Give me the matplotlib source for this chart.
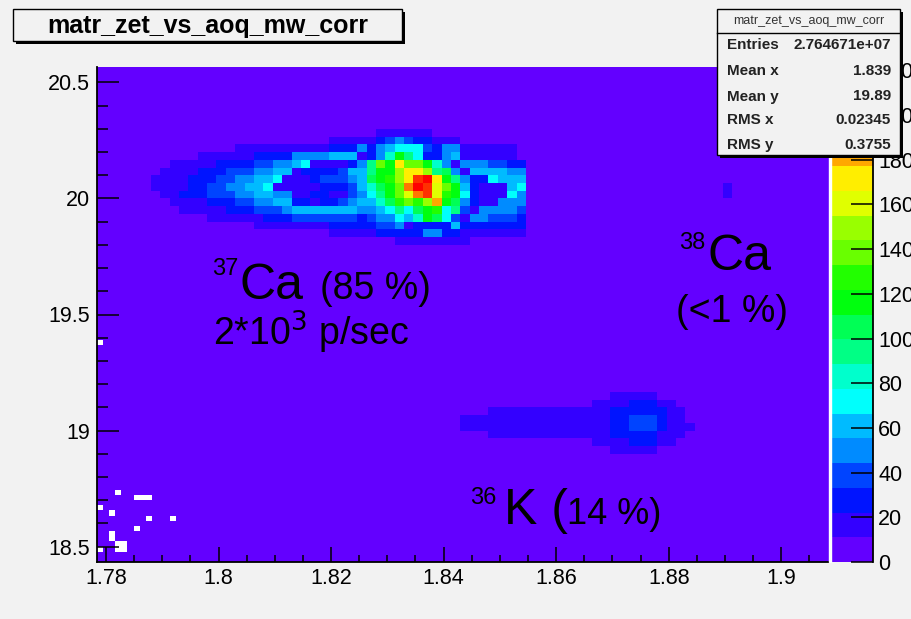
import colorsys
import numpy as np
import matplotlib
matplotlib.use("Agg")
import matplotlib.pyplot as plt
from matplotlib.colors import ListedColormap, BoundaryNorm
from matplotlib.patches import Rectangle
from matplotlib.lines import Line2D
from matplotlib.ticker import MultipleLocator

plt.rcParams['font.family'] = ['Liberation Sans', 'DejaVu Sans']

hist_name = "matr_zet_vs_aoq_mw_corr"
stats_labels = ["Entries", "Mean x", "Mean y", "RMS x", "RMS y"]
stats_values = ["2.764671e+07", "1.839", "19.89", "0.02345", "0.3755"]

# axis ranges and binning (A/Q on x, Z on y)
aoq_range = (1.7784, 1.9084)
z_range = (18.4333, 20.5667)
aoq_first_edge = 1.77797
aoq_bin = 1 / 600
n_aoq = 82
z_bin = 1 / 30
n_z = 64
z_max = 221.5
n_levels = 20

x_ticks = [1.78, 1.80, 1.82, 1.84, 1.86, 1.88, 1.90]
x_tick_labels = ["1.78", "1.8", "1.82", "1.84", "1.86", "1.88", "1.9"]
y_ticks = [18.5, 19.0, 19.5, 20.0, 20.5]
y_tick_labels = ["18.5", "19", "19.5", "20", "20.5"]
cbar_ticks = [0, 20, 40, 60, 80, 100, 120, 140, 160, 180, 200, 220]

# colour band (0..19 -> '.', '1'..'9', 'a'..'j') of each bin.
# rows go down in Z starting at bin row `top` (counted from the top edge)
ca37_top, ca37_col = 8, 6
ca37_bands = [
    "........................111111...........",
    "...................11111234322111........",
    ".........111111111122242456663244111111..",
    ".....111111222244445551247a862245111111..",
    "..1111122223344561111248cafcca7414443322.",
    ".11112223334455122223558aadffd8941555544.",
    "111122233445561112333459abdfijfa84226555.",
    "1111223344556111112223579achjieca5211156.",
    ".112223334455441122113468acehieba6211164.",
    "..111122233445522122345579bcbdga94211444.",
    "...11111222333455555554456869ab683144443.",
    "......11111122233333332344657a9631443332.",
    "...........11111111222223341222252222222.",
    "...................111112222244221111111.",
    "..........................11111111.......",
]

k36_top, k36_col = 42, 39
k36_bands = [
    "................11111....",
    "..............111122211..",
    "...111111111111122222211.",
    "111111111111111122333211.",
    "1111111111111111223332111",
    "...111111111111122222111.",
    "..............111122211..",
    "................11111....",
]

ca38_top, ca38_col = 15, 67
ca38_bands = ["1", "1"]

# empty bins (white) near the lower left corner
empty_aoq = [1.7791, 1.7825, 1.7855, 1.7866, 1.7877, 1.7791, 1.7808, 1.7876,
             1.7924, 1.7858, 1.7807, 1.7807, 1.7818, 1.7829, 1.7818, 1.7829, 1.7791]
empty_z = [19.377, 18.744, 18.713, 18.713, 18.713, 18.677, 18.644, 18.614,
           18.614, 18.586, 18.552, 18.530, 18.508, 18.508, 18.486, 18.486, 18.485]

# ROOT "pretty" palette, 20 contour levels
palette = []
for k in range(n_levels):
    idx = int((k + 0.99) * 50 / n_levels)
    hue = 280 - (idx + 1) * 280 / 50
    palette.append(colorsys.hls_to_rgb(hue / 360, 0.5, 1.0))
cmap = ListedColormap(palette)
bounds = np.linspace(0, z_max, n_levels + 1)
norm = BoundaryNorm(bounds, n_levels)

band_code = ".123456789abcdefghij"
step = z_max / n_levels
counts = np.full((n_z, n_aoq), 0.5 * step)
for top, first, block in [(ca37_top, ca37_col, ca37_bands),
                          (k36_top, k36_col, k36_bands),
                          (ca38_top, ca38_col, ca38_bands)]:
    for r, line in enumerate(block):
        for c, ch in enumerate(line):
            counts[n_z - 1 - (top + r), first + c] = (band_code.index(ch) + 0.5) * step

bg = '#f2f2f2'
W, H = 911, 619
fig = plt.figure(figsize=(W / 100, H / 100), dpi=100, facecolor=bg)
ax = fig.add_axes([97 / W, 57 / H, 731.5 / W, 495 / H])

x_edges = aoq_first_edge + aoq_bin * np.arange(n_aoq + 1)
y_edges = z_range[0] + z_bin * np.arange(n_z + 1)
mesh = ax.pcolormesh(x_edges, y_edges, counts, cmap=cmap, norm=norm)

fine_x = np.linspace(aoq_range[0], aoq_range[1], 121)
fine_y = np.linspace(z_range[0], z_range[1], 97)
empty = np.zeros((96, 120))
ix = np.searchsorted(fine_x, empty_aoq) - 1
iy = np.searchsorted(fine_y, empty_z) - 1
empty[iy, ix] = 1
ax.pcolormesh(fine_x, fine_y, np.ma.masked_equal(empty, 0),
              cmap=ListedColormap(['white']), vmin=0, vmax=1)

ax.set_xlim(*aoq_range)
ax.set_ylim(*z_range)
ax.set_xticks(x_ticks)
ax.set_xticklabels(x_tick_labels)
ax.set_yticks(y_ticks)
ax.set_yticklabels(y_tick_labels)
ax.xaxis.set_minor_locator(MultipleLocator(0.005))
ax.yaxis.set_minor_locator(MultipleLocator(0.1))
ax.tick_params(axis='x', which='major', direction='in', length=10.8, width=1.1,
               labelsize=15.5, pad=4, top=False)
ax.tick_params(axis='x', which='minor', direction='in', length=5.4, width=1.1, top=False)
ax.tick_params(axis='y', which='major', direction='in', length=15.8, width=1.1,
               labelsize=15.5, pad=5, right=False)
ax.tick_params(axis='y', which='minor', direction='in', length=7.9, width=1.1, right=False)
for side in ['top', 'right']:
    ax.spines[side].set_visible(False)
for side in ['left', 'bottom']:
    ax.spines[side].set_linewidth(1.3)

# labels drawn on the pad
txt = dict(transform=ax.transAxes, color='black')
ax.text(0.158, 0.614, "37", fontsize=17, va='top', **txt)
ax.text(0.195, 0.531, "Ca", fontsize=36, va='baseline', **txt)
ax.text(0.305, 0.531, "(85 %)", fontsize=27, va='baseline', **txt)
ax.text(0.158, 0.438, r"2*10$^{3}$ p/sec", fontsize=27, va='baseline', **txt)
ax.text(0.796, 0.667, "38", fontsize=17, va='top', **txt)
ax.text(0.835, 0.590, "Ca", fontsize=36, va='baseline', **txt)
ax.text(0.792, 0.485, "(<1 %)", fontsize=27, va='baseline', **txt)
ax.text(0.510, 0.152, "36", fontsize=17, va='top', **txt)
ax.text(0.557, 0.077, "K (", fontsize=36, va='baseline', **txt)
ax.text(0.643, 0.077, "14 %)", fontsize=26, va='baseline', **txt)

# colour scale
fig.add_artist(Rectangle((828.5 / W, 57 / H), 2 / W, 495 / H,
                         transform=fig.transFigure, color='white', zorder=1))
cax = fig.add_axes([830.5 / W, 57 / H, 42 / W, 495 / H])
cb = fig.colorbar(mesh, cax=cax, ticks=cbar_ticks, spacing='proportional')
cb.outline.set_visible(False)
cax.spines['right'].set_visible(True)
cax.spines['right'].set_linewidth(1.3)
cax.tick_params(which='major', direction='in', length=15.8, width=1.1,
                labelsize=15.5, pad=4, right=True, left=False)
cax.tick_params(which='minor', length=0)


def boxed(x0, y0, x1, y1):
    # box in pixel coords (top-left origin) with a ROOT style drop shadow
    fig.add_artist(Rectangle(((x0 + 3) / W, 1 - (y1 + 3) / H), (x1 - x0) / W, (y1 - y0) / H,
                             transform=fig.transFigure, facecolor='black',
                             edgecolor='none', zorder=10))
    fig.add_artist(Rectangle((x0 / W, 1 - y1 / H), (x1 - x0) / W, (y1 - y0) / H,
                             transform=fig.transFigure, facecolor=bg,
                             edgecolor='black', linewidth=1, zorder=11))


# title
boxed(13, 9, 402, 41)
fig.text(207.5 / W, 1 - 25.5 / H, hist_name, fontsize=18, fontweight='bold',
         ha='center', va='center', zorder=12)

# stats box
boxed(717, 9, 900, 155)
fig.add_artist(Line2D([717 / W, 900 / W], [1 - 33 / H, 1 - 33 / H],
                      transform=fig.transFigure, color='black', linewidth=1, zorder=12))
fig.text(808.5 / W, 1 - 21 / H, hist_name, fontsize=9, color='#333333',
         ha='center', va='center', zorder=12)
row_y = [45, 71, 96.5, 120.5, 145]
for lab, val, y in zip(stats_labels, stats_values, row_y):
    fig.text(727 / W, 1 - y / H, lab, fontsize=11, fontweight='bold', color='#222222',
             ha='left', va='center', zorder=12)
    fig.text(891 / W, 1 - y / H, val, fontsize=11, fontweight='bold', color='#222222',
             ha='right', va='center', zorder=12)

fig.savefig("out.png", dpi=100, facecolor=bg)
